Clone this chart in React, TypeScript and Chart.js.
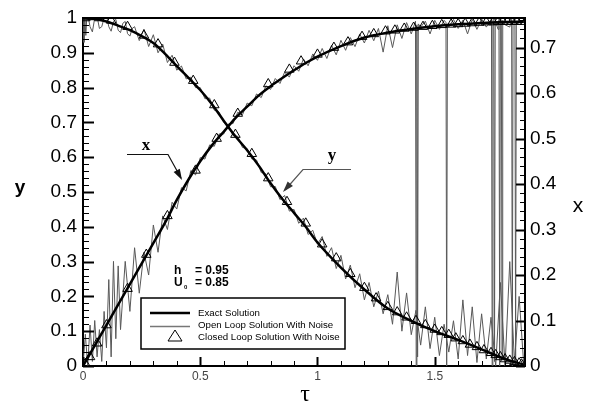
import React, { useEffect, useRef } from "react";
import { Chart, registerables } from "chart.js";
Chart.register(...registerables);

// ---------- data ----------
const exactTau = [0, 0.05, 0.1, 0.15, 0.2, 0.25, 0.3, 0.35, 0.4, 0.45, 0.5, 0.55, 0.6, 0.65, 0.7, 0.75, 0.8, 0.85, 0.9, 0.95, 1.0, 1.1, 1.2, 1.3, 1.4, 1.5, 1.6, 1.7, 1.8, 1.88];
const exactY = [1.0, 0.998, 0.99, 0.978, 0.965, 0.948, 0.928, 0.897, 0.862, 0.828, 0.793, 0.752, 0.705, 0.66, 0.62, 0.575, 0.525, 0.48, 0.44, 0.4, 0.355, 0.283, 0.22, 0.165, 0.13, 0.1, 0.075, 0.048, 0.02, 0.004];
const exactX = [0, 0.045, 0.09, 0.135, 0.18, 0.225, 0.27, 0.315, 0.365, 0.41, 0.45, 0.485, 0.515, 0.545, 0.57, 0.595, 0.615, 0.633, 0.65, 0.666, 0.68, 0.703, 0.722, 0.733, 0.741, 0.747, 0.751, 0.754, 0.756, 0.757];

const openY: [number, number][] = [
  [0, 1.0], [0.004, 0.93], [0.008, 1.0], [0.012, 0.95], [0.016, 1.0], [0.02, 1.01], [0.03, 0.975], [0.04, 0.96], [0.05, 1.0], [0.06, 1.005],
  [0.07, 0.97], [0.08, 0.975], [0.09, 1.0], [0.1, 1.008], [0.11, 0.975], [0.12, 0.962], [0.13, 0.99], [0.14, 0.996], [0.15, 0.965], [0.16, 0.958],
  [0.17, 0.985], [0.18, 0.99], [0.19, 0.955], [0.2, 0.948], [0.21, 0.97], [0.22, 0.975], [0.24, 0.935], [0.26, 0.968], [0.28, 0.918], [0.3, 0.952],
  [0.32, 0.9], [0.34, 0.925], [0.36, 0.872], [0.38, 0.893], [0.4, 0.85], [0.42, 0.862], [0.44, 0.825], [0.46, 0.83], [0.48, 0.8], [0.5, 0.8],
  [0.52, 0.768], [0.54, 0.77], [0.56, 0.735], [0.58, 0.73], [0.6, 0.7], [0.62, 0.69], [0.64, 0.662], [0.66, 0.66], [0.68, 0.628], [0.7, 0.625],
  [0.72, 0.595], [0.74, 0.592], [0.76, 0.556], [0.78, 0.552], [0.8, 0.515], [0.82, 0.516], [0.84, 0.478], [0.86, 0.49], [0.88, 0.445], [0.9, 0.45],
  [0.92, 0.41], [0.94, 0.425], [0.96, 0.378], [0.98, 0.39], [1.0, 0.35], [1.02, 0.372], [1.04, 0.315], [1.06, 0.34], [1.08, 0.28], [1.1, 0.318],
  [1.12, 0.25], [1.14, 0.29], [1.16, 0.225], [1.18, 0.265], [1.2, 0.19], [1.22, 0.24], [1.24, 0.17], [1.26, 0.215], [1.28, 0.15], [1.3, 0.205],
  [1.32, 0.12], [1.34, 0.27], [1.36, 0.1], [1.38, 0.21], [1.4, 0.09], [1.42, 0.16], [1.44, 0.06], [1.46, 0.17], [1.48, 0.05], [1.5, 0.14],
  [1.52, 0.03], [1.54, 0.12], [1.56, 0.04], [1.58, 0.13], [1.6, 0.02], [1.62, 0.19], [1.64, 0.03], [1.66, 0.17], [1.68, 0.01], [1.7, 0.15],
  [1.72, 0.02], [1.74, 0.14], [1.76, 0.0], [1.78, 0.24], [1.8, 0.0], [1.82, 0.3], [1.84, 0.01], [1.86, 0.2], [1.88, 0.0],
];

const openX: [number, number][] = [
  [0, 0], [0.01, 0.07], [0.02, 0.0], [0.03, 0.09], [0.04, 0.01], [0.05, 0.1], [0.06, 0.02], [0.07, 0.08], [0.08, 0.01], [0.09, 0.12],
  [0.1, 0.04], [0.11, 0.19], [0.12, 0.02], [0.13, 0.23], [0.14, 0.06], [0.15, 0.22], [0.16, 0.08], [0.18, 0.23], [0.2, 0.12], [0.22, 0.26],
  [0.24, 0.16], [0.26, 0.25], [0.28, 0.2], [0.3, 0.31], [0.32, 0.25], [0.34, 0.33], [0.36, 0.3], [0.38, 0.36], [0.4, 0.345], [0.42, 0.392],
  [0.44, 0.385], [0.46, 0.43], [0.48, 0.42], [0.5, 0.458], [0.52, 0.455], [0.54, 0.486], [0.56, 0.483], [0.58, 0.51], [0.6, 0.51], [0.62, 0.532],
  [0.64, 0.533], [0.66, 0.558], [0.68, 0.552], [0.7, 0.578], [0.72, 0.572], [0.74, 0.598], [0.76, 0.59], [0.78, 0.616], [0.8, 0.608], [0.82, 0.632],
  [0.84, 0.621], [0.86, 0.646], [0.88, 0.635], [0.9, 0.66], [0.92, 0.648], [0.94, 0.675], [0.96, 0.66], [0.98, 0.686], [1.0, 0.672], [1.02, 0.698],
  [1.04, 0.676], [1.06, 0.705], [1.08, 0.684], [1.1, 0.716], [1.12, 0.694], [1.14, 0.722], [1.16, 0.702], [1.18, 0.73], [1.2, 0.71], [1.22, 0.738],
  [1.24, 0.715], [1.26, 0.742], [1.28, 0.69], [1.3, 0.748], [1.32, 0.7], [1.34, 0.75], [1.36, 0.72], [1.38, 0.755], [1.4, 0.73], [1.418, 0.758],
  [1.421, 0.0], [1.424, 0.75], [1.427, 0.02], [1.43, 0.752], [1.44, 0.745], [1.46, 0.758], [1.48, 0.73], [1.5, 0.76], [1.52, 0.74], [1.54, 0.76],
  [1.548, 0.755], [1.551, 0.0], [1.554, 0.752], [1.56, 0.745], [1.58, 0.762], [1.6, 0.742], [1.62, 0.76], [1.64, 0.73], [1.66, 0.762], [1.68, 0.74],
  [1.7, 0.763], [1.72, 0.745], [1.742, 0.763], [1.745, 0.0], [1.748, 0.76], [1.752, 0.762], [1.755, 0.01], [1.758, 0.76], [1.77, 0.74], [1.774, 0.762],
  [1.777, 0.0], [1.78, 0.762], [1.784, 0.76], [1.787, 0.02], [1.79, 0.76], [1.8, 0.75], [1.82, 0.745], [1.828, 0.762], [1.831, 0.0], [1.834, 0.76],
  [1.842, 0.762], [1.845, 0.01], [1.848, 0.758], [1.86, 0.75], [1.88, 0.757],
];

const closedY: [number, number][] = [
  [0.01, 1.0], [0.04, 1.003], [0.07, 1.0], [0.12, 0.993], [0.19, 0.975], [0.26, 0.95], [0.32, 0.925], [0.39, 0.872], [0.47, 0.82], [0.56, 0.75],
  [0.65, 0.665], [0.72, 0.61], [0.79, 0.54], [0.87, 0.472], [0.95, 0.41], [1.02, 0.35], [1.08, 0.31], [1.14, 0.265], [1.2, 0.225], [1.25, 0.195],
  [1.3, 0.17], [1.34, 0.155], [1.38, 0.14], [1.42, 0.13], [1.46, 0.118], [1.5, 0.105], [1.53, 0.098], [1.56, 0.09], [1.59, 0.08], [1.62, 0.072],
  [1.65, 0.062], [1.68, 0.055], [1.71, 0.046], [1.74, 0.038], [1.76, 0.032], [1.78, 0.026], [1.8, 0.02], [1.82, 0.016], [1.84, 0.012], [1.86, 0.008],
  [1.87, 0.005],
];

const closedX: [number, number][] = [
  [0.01, 0.005], [0.03, 0.02], [0.06, 0.05], [0.1, 0.09], [0.19, 0.17], [0.27, 0.245], [0.36, 0.33], [0.48, 0.43], [0.57, 0.5], [0.66, 0.555],
  [0.79, 0.62], [0.88, 0.652], [0.93, 0.67], [1.0, 0.685], [1.07, 0.7], [1.13, 0.712], [1.19, 0.724], [1.24, 0.73], [1.29, 0.736], [1.33, 0.738],
  [1.37, 0.742], [1.41, 0.744], [1.45, 0.746], [1.49, 0.748], [1.53, 0.75], [1.57, 0.751], [1.6, 0.752], [1.63, 0.753], [1.66, 0.754], [1.69, 0.755],
  [1.72, 0.756], [1.75, 0.756], [1.77, 0.757], [1.79, 0.757], [1.81, 0.757], [1.83, 0.757], [1.85, 0.757], [1.87, 0.757],
];

const legendLabels = ["Exact Solution", "Open Loop Solution With Noise", "Closed Loop Solution With Noise"];
const paramH = ["h", "= 0.95"];
const paramU = ["U", "0", "= 0.85"];
const axisTitles = { left: "y", right: "x", bottom: "τ" };
const curveLabels = { x: "x", y: "y" };

const SANS = "'Liberation Sans', Arial, sans-serif";
const SERIF = "'Liberation Serif', 'Times New Roman', serif";

const fmt = (v: any) => String(Math.round(Number(v) * 1000) / 1000);

function arrowHead(ctx: CanvasRenderingContext2D, x0: number, y0: number, x1: number, y1: number, len: number, half: number) {
  const a = Math.atan2(y1 - y0, x1 - x0);
  ctx.beginPath();
  ctx.moveTo(x1, y1);
  ctx.lineTo(x1 - len * Math.cos(a) + half * Math.sin(a), y1 - len * Math.sin(a) - half * Math.cos(a));
  ctx.lineTo(x1 - len * Math.cos(a) - half * Math.sin(a), y1 - len * Math.sin(a) + half * Math.cos(a));
  ctx.closePath();
  ctx.fill();
}

const tickPlugin = {
  id: "inwardTicks",
  afterDatasetsDraw(chart: any) {
    const { ctx, chartArea: a, scales } = chart;
    ctx.save();
    ctx.strokeStyle = "#000";
    ctx.lineWidth = 2;
    ctx.beginPath();
    ctx.moveTo(a.left - 1, a.top);
    ctx.lineTo(a.right + 1, a.top);
    ctx.stroke();
    const yl = scales.y;
    for (let i = 0; i <= 50; i++) {
      const p = Math.round(yl.getPixelForValue(i * 0.02)) + 0.5;
      const major = i % 5 === 0;
      ctx.lineWidth = major ? 2 : 1;
      ctx.beginPath();
      ctx.moveTo(a.left, p);
      ctx.lineTo(a.left + (major ? 11 : 6), p);
      ctx.stroke();
    }
    const yr = scales.yr;
    for (let i = 0; i <= 38; i++) {
      const p = Math.round(yr.getPixelForValue(i * 0.02)) + 0.5;
      const major = i % 5 === 0;
      ctx.lineWidth = major ? 2 : 1;
      ctx.beginPath();
      ctx.moveTo(a.right, p);
      ctx.lineTo(a.right - (major ? 9 : 5), p);
      ctx.stroke();
    }
    const xs = scales.x;
    for (let i = 0; i <= 18; i++) {
      const p = Math.round(xs.getPixelForValue(i * 0.1)) + 0.5;
      const major = i % 5 === 0;
      ctx.lineWidth = major ? 2 : 1;
      ctx.beginPath();
      ctx.moveTo(p, a.bottom);
      ctx.lineTo(p, a.bottom - (major ? 9 : 5));
      ctx.stroke();
    }
    ctx.restore();
  },
};

const annotPlugin = {
  id: "annot",
  afterDraw(chart: any) {
    const { ctx } = chart;
    ctx.save();
    ctx.fillStyle = "#000";
    ctx.textAlign = "center";
    ctx.textBaseline = "alphabetic";
    ctx.font = `bold 19px ${SANS}`;
    ctx.fillText(axisTitles.left, 20, 193);
    ctx.font = `21px ${SANS}`;
    ctx.fillText(axisTitles.right, 578, 212);
    ctx.font = `24px ${SERIF}`;
    ctx.fillText(axisTitles.bottom, 305, 401);

    ctx.font = `bold 17px ${SERIF}`;
    ctx.fillText(curveLabels.x, 146, 150);
    ctx.strokeStyle = "#111";
    ctx.fillStyle = "#111";
    ctx.lineWidth = 1.2;
    ctx.beginPath();
    ctx.moveTo(127, 154.5);
    ctx.lineTo(168, 154.5);
    ctx.lineTo(181, 178);
    ctx.stroke();
    arrowHead(ctx, 168, 154.5, 182, 180, 11, 3.5);

    ctx.fillStyle = "#000";
    ctx.font = `bold 17px ${SERIF}`;
    ctx.fillText(curveLabels.y, 332, 160);
    ctx.strokeStyle = "#555";
    ctx.fillStyle = "#333";
    ctx.beginPath();
    ctx.moveTo(351, 169.5);
    ctx.lineTo(303, 169.5);
    ctx.lineTo(285, 190);
    ctx.stroke();
    arrowHead(ctx, 303, 169.5, 283, 192, 11, 3.5);

    ctx.fillStyle = "#000";
    ctx.textAlign = "left";
    ctx.font = `bold 12px ${SANS}`;
    ctx.fillText(paramH[0], 174, 274);
    ctx.fillText(paramH[1], 195, 274);
    ctx.fillText(paramU[0], 174, 286);
    ctx.font = `bold 6px ${SANS}`;
    ctx.fillText(paramU[1], 184, 289);
    ctx.font = `bold 12px ${SANS}`;
    ctx.fillText(paramU[2], 195, 286);

    ctx.fillStyle = "#fff";
    ctx.fillRect(141, 298, 204, 51);
    ctx.strokeStyle = "#000";
    ctx.lineWidth = 1.5;
    ctx.strokeRect(141, 298, 204, 51);
    ctx.lineWidth = 2.5;
    ctx.beginPath();
    ctx.moveTo(150, 313);
    ctx.lineTo(190, 313);
    ctx.stroke();
    ctx.strokeStyle = "#777";
    ctx.lineWidth = 1.5;
    ctx.beginPath();
    ctx.moveTo(150, 326.5);
    ctx.lineTo(190, 326.5);
    ctx.stroke();
    ctx.strokeStyle = "#000";
    ctx.lineWidth = 1;
    ctx.beginPath();
    ctx.moveTo(175, 330);
    ctx.lineTo(182, 341);
    ctx.lineTo(168, 341);
    ctx.closePath();
    ctx.stroke();
    ctx.fillStyle = "#000";
    ctx.font = `9.7px ${SANS}`;
    ctx.fillText(legendLabels[0], 198, 316);
    ctx.fillText(legendLabels[1], 198, 328);
    ctx.fillText(legendLabels[2], 198, 340);
    ctx.restore();
  },
};

export default function App() {
  const ref = useRef<HTMLCanvasElement | null>(null);
  useEffect(() => {
    if (!ref.current) return;
    const pts = (arr: [number, number][]) => arr.map(([t, v]) => ({ x: t, y: v }));
    const exY = exactTau.map((t, i) => ({ x: t, y: exactY[i] }));
    const exX = exactTau.map((t, i) => ({ x: t, y: exactX[i] }));
    const chart = new Chart(ref.current, {
      type: "line",
      data: {
        datasets: [
          { data: exY, yAxisID: "y", borderColor: "#000", borderWidth: 2.5, pointRadius: 0, cubicInterpolationMode: "monotone", fill: false },
          { data: exX, yAxisID: "yr", borderColor: "#000", borderWidth: 2.5, pointRadius: 0, cubicInterpolationMode: "monotone", fill: false },
          { data: pts(closedY), yAxisID: "y", showLine: false, pointStyle: "triangle", pointRadius: 5.5, borderColor: "#000", borderWidth: 1, backgroundColor: "rgba(0,0,0,0)" },
          { data: pts(closedX), yAxisID: "yr", showLine: false, pointStyle: "triangle", pointRadius: 5.5, borderColor: "#000", borderWidth: 1, backgroundColor: "rgba(0,0,0,0)" },
          { data: pts(openY), yAxisID: "y", borderColor: "#585858", borderWidth: 1, pointRadius: 0, tension: 0, fill: false },
          { data: pts(openX), yAxisID: "yr", borderColor: "#585858", borderWidth: 1, pointRadius: 0, tension: 0, fill: false },
        ],
      },
      options: {
        responsive: false,
        animation: false,
        devicePixelRatio: 1,
        layout: { padding: { top: 18, left: 0, right: 0, bottom: 0 } },
        plugins: { legend: { display: false }, tooltip: { enabled: false } },
        scales: {
          x: {
            type: "linear",
            min: 0,
            max: 1.885,
            ticks: { stepSize: 0.5, includeBounds: false, padding: 3, color: "#444", font: { size: 12, family: SANS }, callback: fmt },
            grid: { display: false, drawTicks: false },
            border: { display: true, width: 2, color: "#000" },
            afterFit: (s: any) => { s.height = 40; },
          },
          y: {
            type: "linear",
            position: "left",
            min: 0,
            max: 1,
            ticks: { stepSize: 0.1, padding: 6, color: "#000", font: { size: 19, family: SANS }, callback: fmt },
            grid: { display: false, drawTicks: false },
            border: { display: true, width: 2, color: "#000" },
            afterFit: (s: any) => { s.width = 83; },
          },
          yr: {
            type: "linear",
            position: "right",
            min: 0,
            max: 0.765,
            ticks: { stepSize: 0.1, includeBounds: false, padding: 5, color: "#000", font: { size: 19, family: SANS }, callback: fmt },
            grid: { display: false, drawTicks: false },
            border: { display: true, width: 2, color: "#000" },
            afterFit: (s: any) => { s.width = 64; },
          },
        },
      } as any,
      plugins: [tickPlugin, annotPlugin],
    });
    return () => chart.destroy();
  }, []);
  return (
    <div style={{ position: "fixed", left: 0, top: 0, width: 589, height: 406, background: "#fff" }}>
      <canvas ref={ref} width={589} height={406} />
    </div>
  );
}
